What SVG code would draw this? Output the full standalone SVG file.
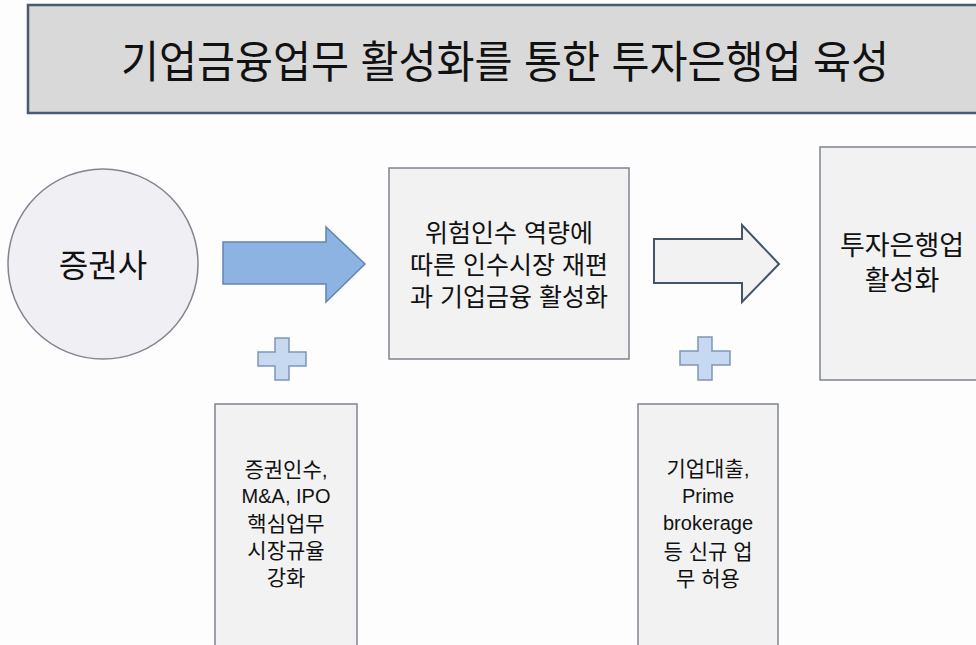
<svg xmlns="http://www.w3.org/2000/svg" width="976" height="645" viewBox="0 0 976 645">
<style>
text{font-family:"Liberation Sans","Noto Sans CJK KR",sans-serif;fill:#111;text-anchor:middle;dominant-baseline:central}
.box{fill:#f2f2f2;stroke:#7f8590;stroke-width:1.5}
.plus{fill:#c6d9f1;stroke:#7d95ba;stroke-width:1.5}
</style>
<rect width="976" height="645" fill="#fdfdfd"/>
<g id="title">
<rect x="28" y="5" width="960" height="108" fill="#d9d9d9" stroke="#4a5a70" stroke-width="2.5"/>
<text x="505" y="62" font-size="44" textLength="768" lengthAdjust="spacingAndGlyphs">기업금융업무 활성화를 통한 투자은행업 육성</text>
</g>
<g id="securities">
<circle cx="103" cy="264" r="95" fill="#f0f0f4" stroke="#7f8590" stroke-width="1.5"/>
<text x="103" y="266" font-size="32">증권사</text>
</g>
<g id="restructure">
<rect class="box" x="389" y="168" width="240" height="191"/>
<text x="509" y="233" font-size="25">위험인수 역량에</text>
<text x="509" y="265" font-size="25">따른 인수시장 재편</text>
<text x="509" y="297" font-size="25">과 기업금융 활성화</text>
</g>
<g id="ib">
<rect class="box" x="820" y="147" width="170" height="233" stroke="#5a6478"/>
<text x="902" y="246" font-size="27">투자은행업</text>
<text x="902" y="281" font-size="27">활성화</text>
</g>
<g id="core">
<rect class="box" x="215" y="404" width="142" height="260" stroke="#7d8aa5"/>
<text x="286" y="469" font-size="21">증권인수,</text>
<text x="286" y="496" font-size="20">M&amp;A, IPO</text>
<text x="286" y="523" font-size="21">핵심업무</text>
<text x="286" y="550" font-size="21">시장규율</text>
<text x="286" y="577" font-size="21">강화</text>
</g>
<g id="new">
<rect class="box" x="638" y="404" width="140" height="260" stroke="#7d8aa5"/>
<text x="708" y="468" font-size="21">기업대출,</text>
<text x="708" y="496" font-size="20">Prime</text>
<text x="708" y="523" font-size="20">brokerage</text>
<text x="708" y="551" font-size="21">등 신규 업</text>
<text x="708" y="578" font-size="21">무 허용</text>
</g>
<g id="connectors">
<polygon points="223,242 326,242 326,227 365,264 326,302 326,284 223,284" fill="#8db3e2" stroke="#5f84b8" stroke-width="1.5"/>
<polygon points="654,239 742,239 742,225 779,264 742,302 742,283 654,283" fill="#f2f2f2" stroke="#44546a" stroke-width="2"/>
<polygon class="plus" points="275,338 289,338 289,352 306,352 306,366 289,366 289,380 275,380 275,366 258,366 258,352 275,352"/>
<polygon class="plus" points="698,337 712,337 712,351 730,351 730,365 712,365 712,380 698,380 698,365 680,365 680,351 698,351"/>
</g>
</svg>
